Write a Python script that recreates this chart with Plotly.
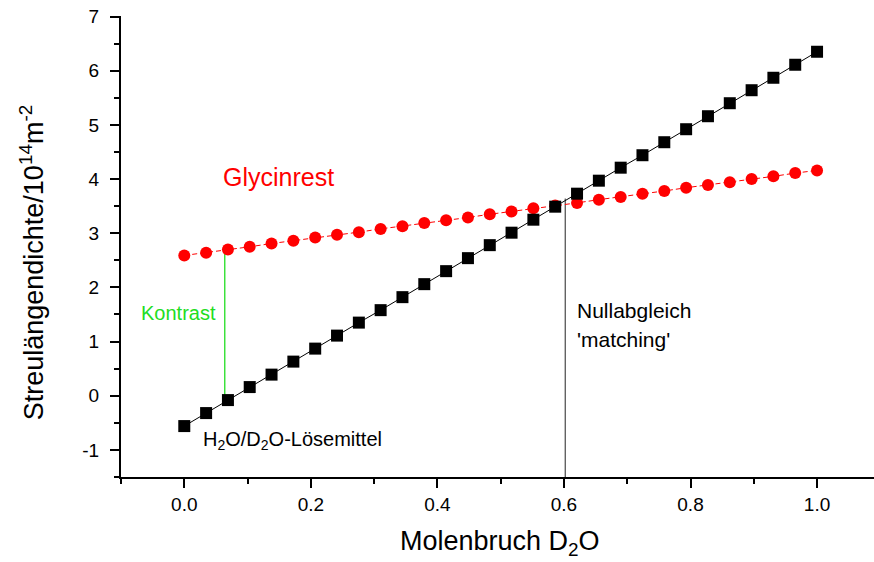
import plotly.graph_objects as go

# Molenbruch D2O (30 Punkte)
x_frac = [0.0, 0.0345, 0.0690, 0.1034, 0.1379, 0.1724, 0.2069, 0.2414, 0.2759, 0.3103,
          0.3448, 0.3793, 0.4138, 0.4483, 0.4828, 0.5172, 0.5517, 0.5862, 0.6207, 0.6552,
          0.6897, 0.7241, 0.7586, 0.7931, 0.8276, 0.8621, 0.8966, 0.9310, 0.9655, 1.0]

# H2O/D2O-Lösemittel (schwarze Quadrate)
solvent = [-0.56, -0.32, -0.08, 0.16, 0.39, 0.63, 0.87, 1.11, 1.35, 1.58,
           1.82, 2.06, 2.30, 2.54, 2.78, 3.01, 3.25, 3.49, 3.73, 3.97,
           4.21, 4.44, 4.68, 4.92, 5.16, 5.40, 5.64, 5.87, 6.11, 6.35]

# Glycinrest (rote Kreise)
glycine = [2.59, 2.64, 2.70, 2.75, 2.81, 2.86, 2.92, 2.97, 3.02, 3.08,
           3.13, 3.19, 3.24, 3.29, 3.35, 3.40, 3.46, 3.51, 3.56, 3.62,
           3.67, 3.73, 3.78, 3.84, 3.89, 3.94, 4.00, 4.05, 4.11, 4.16]

# Kontrast-Linie und Nullabgleich
contrast_x = [0.064, 0.064]
contrast_y = [-0.17, 2.70]
match_x = [0.602, 0.602]
match_y = [-1.5, 3.64]

x_ticks = [0.0, 0.2, 0.4, 0.6, 0.8, 1.0]
x_ticklabels = ["0.0", "0.2", "0.4", "0.6", "0.8", "1.0"]
y_ticks = [-1, 0, 1, 2, 3, 4, 5, 6, 7]
y_ticklabels = ["-1", "0", "1", "2", "3", "4", "5", "6", "7"]

FONT = "Liberation Sans, Arial, sans-serif"

fig = go.Figure()

fig.add_trace(go.Scatter(
    x=contrast_x, y=contrast_y, mode="lines",
    line=dict(color="#22dd22", width=1.3), hoverinfo="skip", showlegend=False))
fig.add_trace(go.Scatter(
    x=match_x, y=match_y, mode="lines",
    line=dict(color="#222222", width=1), hoverinfo="skip", showlegend=False))

fig.add_trace(go.Scatter(
    x=x_frac, y=glycine, mode="lines+markers", name="Glycinrest",
    line=dict(color="#ff0000", width=1, dash="5px,3px"),
    marker=dict(symbol="circle", size=12, color="#ff0000", line=dict(width=0)),
    showlegend=False))
fig.add_trace(go.Scatter(
    x=x_frac, y=solvent, mode="lines+markers", name="H2O/D2O-Lösemittel",
    line=dict(color="#000000", width=1),
    marker=dict(symbol="square", size=12, color="#000000", line=dict(width=0)),
    showlegend=False))

annotations = [
    dict(x=0.149, y=4.03, text="Glycinrest", font=dict(color="#ff0000", size=25),
         xanchor="center", yanchor="middle"),
    dict(x=-0.072, y=1.52, text="Kontrast", font=dict(color="#22dd22", size=20),
         xanchor="left", yanchor="middle"),
    dict(x=0.027, y=-0.82, text="H<sub>2</sub>O/D<sub>2</sub>O-Lösemittel",
         font=dict(color="#000000", size=20), xanchor="left", yanchor="middle"),
    dict(x=0.617, y=1.57, text="Nullabgleich", font=dict(color="#000000", size=21),
         xanchor="left", yanchor="middle"),
    dict(x=0.617, y=1.03, text="'matching'", font=dict(color="#000000", size=21),
         xanchor="left", yanchor="middle"),
]
for a in annotations:
    a.update(xref="x", yref="y", showarrow=False, font_family=FONT)
    fig.add_annotation(**a)

# Achsentitel als Annotationen (feste Position)
fig.add_annotation(text="Molenbruch D<sub>2</sub>O", xref="paper", yref="paper",
                   x=0.503, y=-0.143, xanchor="center", yanchor="middle",
                   showarrow=False, font=dict(family=FONT, size=27, color="#000000"))
fig.add_annotation(text="Streulängendichte/10<sup>14</sup>m<sup>-2</sup>", xref="paper", yref="paper",
                   x=-0.118, y=0.466, xanchor="center", yanchor="middle", textangle=-90,
                   showarrow=False, font=dict(family=FONT, size=27, color="#000000"))

fig.update_layout(
    width=874, height=562,
    margin=dict(l=121, r=0, t=16, b=85, autoexpand=False),
    paper_bgcolor="white", plot_bgcolor="white",
    font=dict(family=FONT, color="#000000"),
    showlegend=False,
)
fig.update_xaxes(
    range=[-0.1, 1.09], showgrid=False, zeroline=False, automargin=False,
    showline=True, linecolor="black", linewidth=2,
    ticks="outside", ticklen=9, tickwidth=2, tickcolor="black",
    tickvals=x_ticks, ticktext=x_ticklabels, tickfont=dict(size=19),
    ticklabeloverflow="allow",
    minor=dict(ticks="outside", ticklen=5, tickwidth=2, tickcolor="black", dtick=0.1, tick0=0.0),
)
fig.update_yaxes(
    range=[-1.5, 7.01], showgrid=False, zeroline=False, automargin=False,
    showline=True, linecolor="black", linewidth=2,
    ticks="outside", ticklen=9, tickwidth=2, tickcolor="black",
    tickvals=y_ticks, ticktext=y_ticklabels, tickfont=dict(size=19),
    ticklabelstandoff=7, ticklabeloverflow="allow",
    minor=dict(ticks="outside", ticklen=5, tickwidth=2, tickcolor="black", dtick=0.5, tick0=0.0),
)

fig.write_html(
    "out.html",
    config={"displayModeBar": False},
    post_script="document.body.style.margin='0';document.body.style.overflow='hidden';",
)
